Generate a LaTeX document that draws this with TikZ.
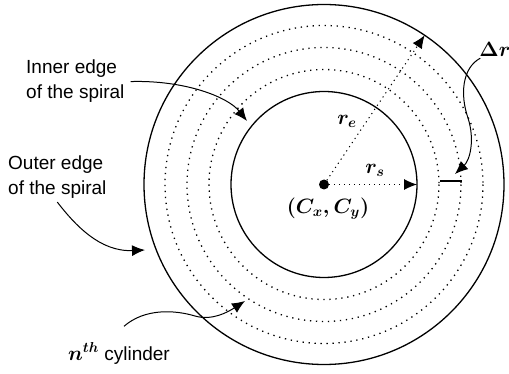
\documentclass[tikz,border=0pt]{standalone}
\usepackage{fontspec}
\newfontfamily\notefont{Liberation Sans}
\usetikzlibrary{arrows.meta,calc}

\begin{document}
\begin{tikzpicture}[x=1pt,y=-1pt,
  note/.style={font=\notefont\fontsize{19}{25}\selectfont, inner sep=0pt, align=left},
  sym/.style={font=\boldmath\fontsize{22}{26}\selectfont, inner sep=1pt},
  ring/.style={line width=1.3pt},
  track/.style={line width=1.3pt, dash pattern=on 1.3pt off 4.7pt},
  line/.style={draw, line width=1pt, -{Latex[length=13pt,width=11pt]}},
  radline/.style={line, dash pattern=on 1.2pt off 3.8pt}
]
\useasboundingbox (0,0) rectangle (509,374);

% Cylinders
\coordinate (c) at (324,184.5);
\draw[ring] (c) circle (93);
\draw[ring] (c) circle (180);
\foreach \r in {115,137,159}
  \draw[track] (c) circle (\r);

% Centre and radii
\fill (c) circle (5);
\draw[radline] (c) -- ($(c)+(0:93)$);
\draw[radline] (c) -- ($(c)+(-56:180)$);
\draw[line width=1.2pt] (440,181) -- (462,181);

% Labels
\node[sym] (re) at (347,121) {$r_e$};
\node[sym] (rs) at (375,170) {$r_s$};
\node[sym] (cxy) at (328,209) {$(C_x, C_y)$};
\node[sym, anchor=base] (drlbl) at (495,57) {$\Delta r$};
\node[note, anchor=north west] (innerlbl) at (26,60) {Inner edge\\of the spiral};
\node[note, anchor=north west] (outerlbl) at (8,156) {Outer edge\\of the spiral};
\node[note, anchor=base west] (nthlbl) at (68,360) {{\boldmath\fontsize{21}{25}\selectfont$n^{th}$} cylinder};

% Arrow tips
\coordinate (drtip) at (455,174);
\coordinate (innertip) at (247,121);
\coordinate (outertip) at (145,250);
\coordinate (nthtip) at (245,301);

% Connectors
\draw[line] ([xshift=2pt]drlbl.south west) .. controls (462,68) and (460,95) .. (468,118)
  .. controls (475,140) and (470,160) .. (drtip);
\draw[line] ([xshift=6pt]innerlbl.east) .. controls (185,80) and (228,97) .. (innertip);
\draw[line] ([yshift=-3pt]outerlbl.south) .. controls (75,225) and (100,252) .. (outertip);
\draw[line] ([shift={(5pt,16pt)}]nthlbl.north) .. controls (145,308) and (175,310) .. (195,316)
  .. controls (212,321) and (228,312) .. (nthtip);

\end{tikzpicture}
\end{document}
